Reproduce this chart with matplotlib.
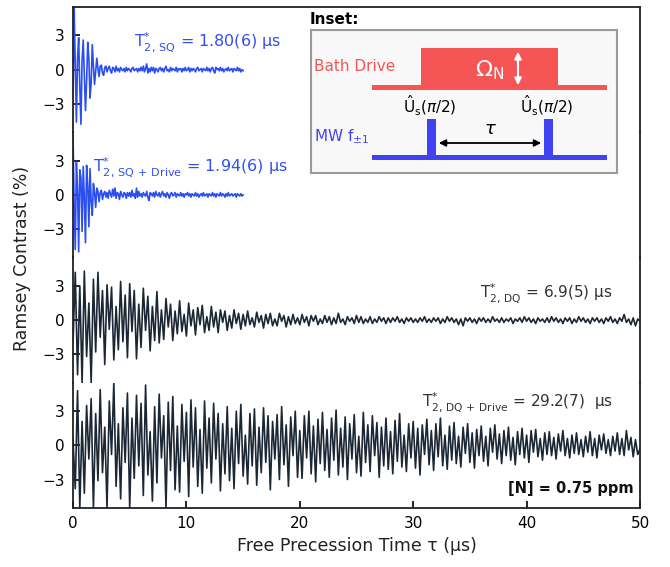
import numpy as np
import matplotlib
matplotlib.use("Agg")
import matplotlib.pyplot as plt
from matplotlib.patches import Rectangle, FancyArrowPatch

plt.rcParams['font.family'] = ['DejaVu Sans']
plt.rcParams['mathtext.fontset'] = 'dejavusans'

# ---------------- data ----------------
t_sq = np.round(np.arange(0, 15.01, 0.1), 2)
t_dq = np.round(np.arange(0, 50.01, 0.2), 2)

sq = [-2.5, 5.5, 0.5, -4.6, 1.0, 2.8, -1.5, -4.8, 0.8, 2.6,
      -0.5, -3.6, -1.0, 2.4, 1.0, -2.5, -1.2, 2.2, 0.3, -1.3,
      -0.2, 1.0, 0.1, -0.6, 0.3, 0.4, -0.3, -0.5, 0.2, 0.3,
      -0.2, 0.1, 0.3, -0.1, -0.3, 0.2, 0.1, -0.2, 0.3, -0.1,
      0.1, -0.2, 0.2, 0.0, -0.1, 0.1, -0.2, 0.2, -0.1, 0.1,
      0.0, -0.2, 0.1, 0.2, -0.1, 0.0, 0.1, -0.2, 0.1, -0.1,
      0.2, -0.1, 0.3, -0.2, 0.1, 0.5, -0.3, 0.1, -0.2, 0.2,
      -0.1, 0.2, -0.3, 0.1, 0.0, -0.2, 0.1, 0.2, -0.1, 0.1,
      -0.2, 0.1, 0.3, -0.1, 0.0, -0.2, 0.2, -0.1, 0.1, 0.0,
      -0.1, 0.2, -0.2, 0.1, 0.0, 0.1, -0.2, 0.1, -0.1, 0.2,
      -0.1, 0.0, 0.2, -0.2, 0.1, -0.1, 0.1, 0.0, -0.2, 0.1,
      0.2, -0.1, 0.0, 0.1, -0.2, 0.1, 0.0, -0.1, 0.2, -0.1,
      0.1, -0.2, 0.1, 0.2, -0.1, -0.3, 0.2, 0.0, 0.1, -0.1,
      0.2, -0.1, 0.1, -0.2, 0.0, 0.1, -0.1, 0.2, -0.1, 0.0,
      0.1, -0.2, 0.1, 0.0, -0.1, 0.2, -0.1, 0.1, -0.2, 0.0,
      -0.1]

sq_drive = [5.5, -1.0, -4.8, 2.9, 0.5, -5.0, 2.2, 1.5, -3.2, 2.5,
            -0.3, -4.2, 2.6, 0.8, -2.8, 2.3, -0.6, -1.8, 1.0, 0.2,
            -1.1, 0.6, 0.3, -0.6, 0.2, 0.4, -0.4, 0.1, 0.3, -0.2,
            0.2, -0.3, 0.4, 0.1, -0.2, 0.5, -0.1, 0.6, -0.3, 0.2,
            0.1, -0.4, 0.3, 0.0, -0.2, 0.2, 0.1, -0.3, 0.2, -0.1,
            0.2, -0.2, 0.4, -0.1, 0.1, -0.3, 0.6, -0.2, 0.3, -0.1,
            0.1, -0.2, 0.2, 0.0, -0.1, 0.3, -0.2, -0.5, 0.2, 0.1,
            -0.1, 0.2, -0.2, 0.3, 0.0, -0.1, 0.2, -0.2, 0.1, 0.3,
            -0.1, 0.1, -0.2, 0.2, 0.0, -0.3, 0.1, 0.2, -0.1, 0.0,
            0.2, -0.2, 0.1, 0.0, -0.1, 0.2, -0.1, 0.1, -0.2, 0.1,
            0.0, 0.2, -0.1, 0.1, -0.2, 0.1, 0.0, -0.1, 0.2, -0.1,
            0.1, -0.2, 0.0, 0.1, -0.1, 0.2, -0.1, 0.0, 0.1, -0.2,
            0.1, 0.0, -0.1, 0.2, -0.1, 0.1, -0.2, 0.1, 0.0, -0.1,
            0.2, -0.1, 0.1, 0.0, -0.2, 0.1, -0.1, 0.2, -0.1, 0.0,
            0.1, -0.1, 0.0, 0.1, -0.2, 0.1, 0.0, -0.1, 0.1, -0.1,
            0.0]

dq = [-2.0, 4.2, -4.8, 3.0, -5.5, 4.3, -3.2, 1.5, -5.5, 3.6,
      -2.8, 4.2, -1.5, 2.6, -3.9, 3.1, -0.8, 2.9, -3.5, 1.2,
      -2.6, 3.4, -1.9, 2.2, -3.3, 3.2, -1.0, 2.6, -3.4, 1.4,
      -2.4, 2.8, -0.9, 2.1, -2.7, 1.2, -1.8, 2.5, -2.0, 0.9,
      -1.7, 1.9, -0.6, 1.4, -1.8, 0.8, -1.2, 1.7, -1.0, 0.5,
      -1.4, 1.5, -0.5, 0.9, -1.3, 1.1, -0.4, 1.3, -1.1, 0.3,
      -0.9, 1.2, -0.6, 0.7, -1.1, 0.9, -0.2, 0.8, -0.9, 0.4,
      -0.7, 0.9, -0.3, 0.6, -0.8, 0.5, -0.5, 0.8, -0.4, 0.2,
      -0.6, 0.7, -0.2, 0.4, -0.7, 0.5, -0.3, 0.6, -0.5, 0.1,
      -0.5, 0.6, -0.1, 0.4, -0.6, 0.3, -0.4, 0.5, -0.3, 0.2,
      -0.4, 0.5, -0.2, 0.3, -0.5, 0.4, -0.1, 0.4, -0.4, 0.1,
      -0.3, 0.4, -0.2, 0.3, -0.4, 0.2, -0.3, 0.6, -0.2, 0.1,
      -0.4, 0.3, -0.1, 0.2, -0.3, 0.4, -0.2, 0.3, -0.3, 0.1,
      -0.2, 0.3, -0.3, 0.1, -0.2, 0.3, -0.1, 0.2, -0.3, 0.2,
      -0.2, 0.2, -0.1, 0.3, -0.2, 0.1, -0.3, 0.2, -0.1, 0.2,
      -0.2, 0.1, -0.2, 0.2, -0.1, 0.3, -0.2, 0.1, -0.2, 0.2,
      -0.1, 0.2, -0.3, 0.1, -0.2, 0.3, -0.1, 0.2, -0.2, 0.1,
      -0.4, 0.1, -0.5, 0.2, -0.1, 0.2, -0.2, 0.1, -0.3, 0.2,
      -0.1, 0.2, -0.2, 0.1, -0.2, 0.3, -0.1, 0.1, -0.2, 0.2,
      -0.2, 0.1, -0.1, 0.2, -0.3, 0.1, -0.1, 0.2, -0.2, 0.3,
      -0.1, 0.2, -0.2, 0.1, -0.3, 0.2, -0.1, 0.1, -0.2, 0.2,
      -0.2, 0.3, -0.1, 0.2, -0.2, 0.1, -0.3, 0.2, -0.1, 0.2,
      -0.3, 0.1, -0.2, 0.3, -0.1, 0.2, -0.2, 0.1, -0.3, 0.2,
      -0.1, 0.2, -0.2, 0.1, -0.3, 0.2, -0.1, 0.3, -0.2, 0.1,
      -0.3, 0.2, -0.1, 0.5, -0.2, 0.1, -0.4, 0.2, -0.5, 0.1,
      -0.1]

dq_drive = [0.5, -3.8, 4.8, -5.5, 2.1, -4.2, 3.5, -1.2, 4.1, -5.5,
            2.8, -3.1, 4.9, -2.4, 1.6, -5.5, 3.9, -0.8, 5.5, -3.6,
            1.9, -4.7, 3.3, -1.5, 4.6, -5.5, 2.4, -2.9, 4.4, -1.8,
            3.7, -4.4, 5.3, -2.6, 1.2, -4.9, 3.4, -3.3, 4.5, -1.1,
            2.6, -5.5, 3.8, -2.2, 4.3, -3.9, 1.7, -4.1, 3.6, -1.4,
            2.9, -4.5, 4.0, -1.9, 3.3, -3.6, 1.4, -4.2, 3.9, -2.0,
            2.4, -3.3, 3.7, -1.2, 2.8, -4.0, 1.9, -2.5, 3.4, -3.1,
            1.5, -3.8, 3.0, -1.6, 3.6, -2.7, 0.9, -3.4, 2.8, -1.8,
            3.2, -3.5, 1.6, -2.4, 3.3, -1.5, 2.6, -3.9, 2.1, -1.2,
            2.7, -3.0, 3.4, -1.7, 1.8, -3.6, 2.5, -0.9, 3.0, -2.8,
            1.3, -2.9, 2.6, -1.1, 3.0, -2.5, 1.7, -3.2, 2.3, -1.6,
            2.9, -2.2, 1.4, -2.8, 2.4, -1.3, 3.1, -2.6, 1.5, -1.9,
            2.5, -3.0, 1.9, -1.2, 2.7, -2.4, 0.8, -2.7, 2.9, -1.5,
            1.8, -2.3, 2.6, -0.9, 2.0, -2.8, 1.6, -1.8, 2.4, -2.1,
            1.2, -2.5, 2.2, -1.4, 2.8, -1.9, 0.9, -2.3, 1.9, -1.1,
            2.1, -2.0, 1.5, -2.6, 1.8, -0.8, 2.3, -1.7, 1.3, -2.2,
            1.9, -1.0, 2.4, -1.8, 0.9, -2.1, 1.7, -1.3, 2.0, -1.6,
            0.8, -1.9, 1.6, -0.7, 1.9, -1.5, 1.1, -2.0, 1.4, -0.9,
            1.7, -1.4, 0.8, -1.8, 1.5, -0.6, 1.8, -1.2, 1.0, -1.6,
            1.3, -0.9, 1.6, -1.3, 0.7, -1.7, 1.2, -0.8, 1.5, -1.1,
            0.9, -1.5, 1.3, -0.6, 1.4, -1.0, 0.6, -1.3, 1.1, -0.8,
            1.2, -0.9, 0.7, -1.2, 1.0, -0.5, 1.3, -0.9, 0.6, -1.1,
            0.9, -0.7, 1.1, -0.8, 0.5, -1.0, 0.8, -0.6, 1.2, -0.9,
            0.6, -1.1, 0.9, -0.4, 1.0, -0.7, 0.5, -0.9, 0.8, -0.5,
            1.1, -0.8, 0.6, -0.9, 1.3, -0.4, 0.7, -1.0, 0.5, -0.8,
            -0.3]

yticks = [-3, 0, 3]
ytick_labels = ["\u22123", "0", "3"]
xticks = [0, 10, 20, 30, 40, 50]

BLUE = '#2b4ef2'
DARK = '#1c2735'

# ---------------- figure ----------------
fig = plt.figure(figsize=(6.7, 5.67), dpi=100)
left, right = 73 / 670, 640 / 670
top, bottom = 1 - 7 / 567, 1 - 508 / 567
h = (top - bottom) / 4

series = [(t_sq, sq, BLUE), (t_sq, sq_drive, BLUE), (t_dq, dq, DARK), (t_dq, dq_drive, DARK)]
axes = []
for i, (tx, yv, col) in enumerate(series):
    ax = fig.add_axes([left, top - (i + 1) * h, right - left, h])
    ax.plot(tx, yv, color=col, lw=1.2)
    ax.set_xlim(0, 50)
    ax.set_ylim(-5.5, 5.5)
    ax.set_yticks(yticks)
    ax.set_yticklabels(ytick_labels)
    ax.tick_params(axis='y', direction='in', length=5, width=1.2, labelsize=11, pad=6)
    ax.tick_params(axis='x', direction='in', length=5, width=1.2, labelsize=11, pad=6)
    for s in ax.spines.values():
        s.set_linewidth(1.3)
        s.set_color('#222222')
    ax.spines['top'].set_visible(i == 0)
    ax.spines['bottom'].set_visible(i == 3)
    if i < 3:
        ax.set_xticks([])
    else:
        ax.set_xticks(xticks)
        ax.set_xlabel('Free Precession Time \u03c4 (\u00b5s)', fontsize=12.5, color='#222222')
    ax.patch.set_alpha(0)
    axes.append(ax)

fig.text(22 / 670, 1 - 258 / 567, 'Ramsey Contrast (%)', rotation=90, fontsize=12.5,
         ha='center', va='center', color='#222222')

axes[0].text(5.4, 2.4, r'T$^{*}_{\mathrm{2,\,SQ}}$ = 1.80(6) $\mathrm{\mu}$s', color='#3050f0',
             fontsize=11.5, ha='left', va='center')
axes[1].text(1.8, 2.4, r'T$^{*}_{\mathrm{2,\,SQ\,+\,Drive}}$ = 1.94(6) $\mathrm{\mu}$s', color='#3050f0',
             fontsize=11.5, ha='left', va='center')
axes[2].text(47.6, 2.4, r'T$^{*}_{\mathrm{2,\,DQ}}$ = 6.9(5) $\mathrm{\mu}$s', color='#333333',
             fontsize=11, ha='right', va='center')
axes[3].text(47.6, 3.8, r'T$^{*}_{\mathrm{2,\,DQ\,+\,Drive}}$ = 29.2(7)  $\mathrm{\mu}$s', color='#333333',
             fontsize=11, ha='right', va='center')
axes[3].text(49.4, -3.8, '[N] = 0.75 ppm', fontsize=10.5, fontweight='bold',
             ha='right', va='center', color='#111111')

# ---------------- inset ----------------
fig.text(310 / 670, 1 - 19 / 567, 'Inset:', fontsize=11, fontweight='bold', va='center', ha='left')
ins = fig.add_axes([311 / 670, 1 - 173 / 567, 306 / 670, 143 / 567])
ins.set_xlim(311, 617)
ins.set_ylim(173, 30)
ins.set_xticks([])
ins.set_yticks([])
ins.set_facecolor('#f8f8f8')
for s in ins.spines.values():
    s.set_color('#9a9a9a')
    s.set_linewidth(1.5)

RED = '#f65555'
IBLUE = '#4242f5'
ins.add_patch(Rectangle((372, 85.5), 235, 5, color=RED, lw=0))
ins.add_patch(Rectangle((421, 48), 137, 40, color=RED, lw=0))
ins.add_patch(FancyArrowPatch((518, 49), (518, 88), arrowstyle='<|-|>', mutation_scale=10,
                              color='white', lw=1.5))
ins.text(490, 70, r'$\Omega_{\mathrm{N}}$', color='white', fontsize=16, ha='center', va='center')
ins.text(314, 67, 'Bath Drive', color=RED, fontsize=11, ha='left', va='center')

ins.add_patch(Rectangle((372, 155.5), 235, 5, color=IBLUE, lw=0))
ins.add_patch(Rectangle((427, 119), 9, 38, color=IBLUE, lw=0))
ins.add_patch(Rectangle((544, 119), 9, 38, color=IBLUE, lw=0))
ins.add_patch(FancyArrowPatch((436, 143), (544, 143), arrowstyle='<|-|>', mutation_scale=10,
                              color='black', lw=1.3))
ins.text(490, 129, r'$\tau$', fontsize=13, ha='center', va='center')
ins.text(430, 106, r'$\hat{\mathrm{U}}_{\mathrm{s}}(\pi/2)$', fontsize=11, ha='center', va='center')
ins.text(547, 106, r'$\hat{\mathrm{U}}_{\mathrm{s}}(\pi/2)$', fontsize=11, ha='center', va='center')
ins.text(314, 137, r'MW f$_{\pm1}$', color=IBLUE, fontsize=11, ha='left', va='center')

fig.savefig('out.png', dpi=100)
